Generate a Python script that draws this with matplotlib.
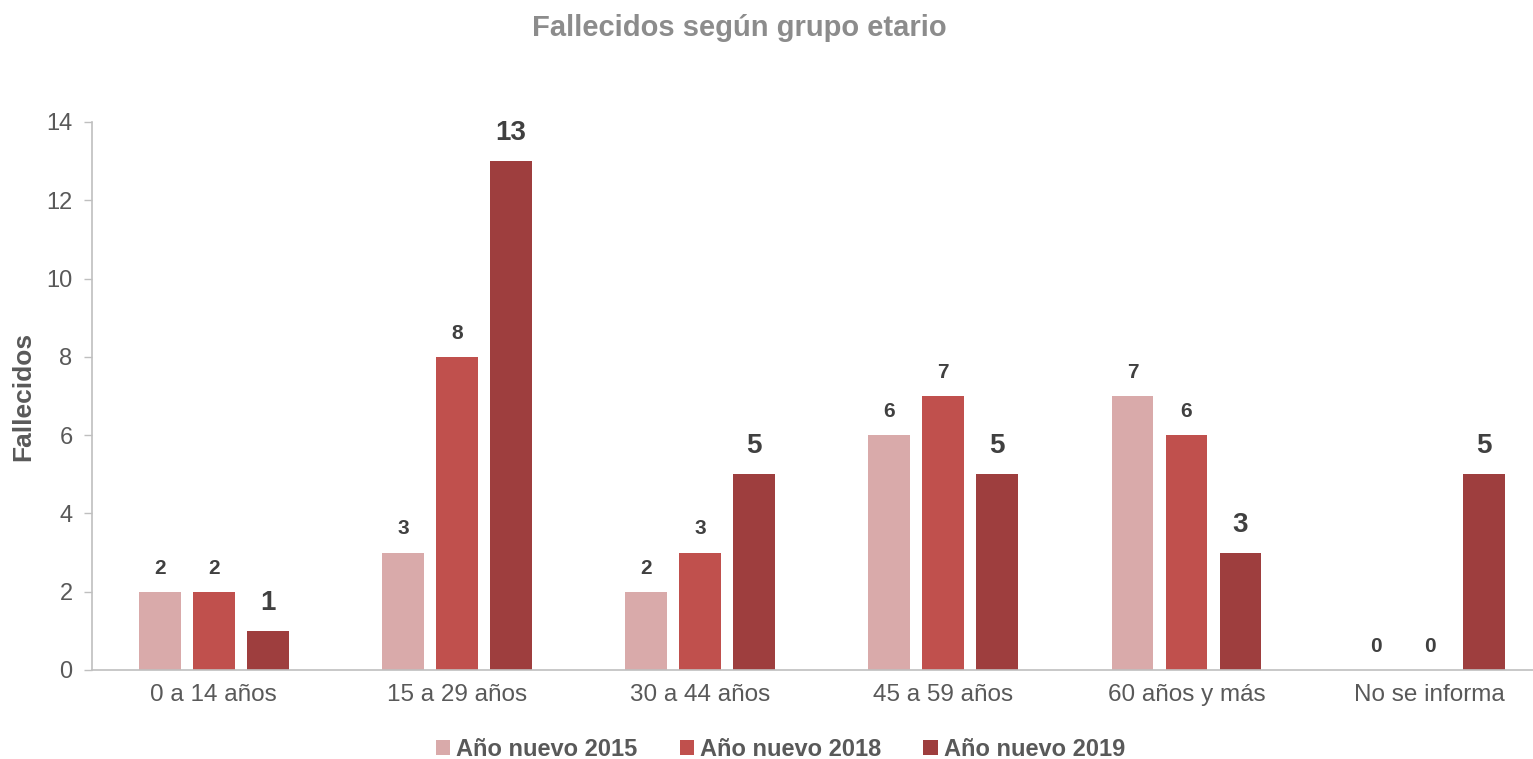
import numpy as np
import matplotlib.pyplot as plt

plt.rcParams['font.family'] = ['Liberation Sans', 'DejaVu Sans']

groups = ['0 a 14 años', '15 a 29 años', '30 a 44 años', '45 a 59 años', '60 años y más', 'No se informa']
series = ['Año nuevo 2015', 'Año nuevo 2018', 'Año nuevo 2019']
v2015 = [2, 3, 2, 6, 7, 0]
v2018 = [2, 8, 3, 7, 6, 0]
v2019 = [1, 13, 5, 5, 3, 5]
colors = ['#D9AAAA', '#C0504D', '#9E3E3E']

fig = plt.figure(figsize=(15.33, 7.59), dpi=100)
ax = fig.add_axes([0.060, 0.1173, 0.952, 0.722])

x = np.arange(len(groups))
w = 0.172
off = 0.222
label_sizes = [15, 15, 20]
label_offs = [17, 17, 20]
for k, (vals, c) in enumerate(zip([v2015, v2018, v2019], colors)):
    xs = x + (k - 1) * off
    ax.bar(xs, vals, width=w, color=c, label=series[k], zorder=2)
    for xi, v in zip(xs, vals):
        ax.annotate(str(v), (xi, v), xytext=(0, label_offs[k]), textcoords='offset points',
                    ha='center', va='center', fontsize=label_sizes[k],
                    fontweight='bold', color='#404040')

ax.set_xlim(-0.5, 5.5)
ax.set_ylim(0, 14)
ax.set_yticks(range(0, 15, 2))
ax.set_xticks(x)
ax.set_xticklabels(groups)
ax.tick_params(axis='x', length=0, pad=10, labelsize=17.5, colors='#595959')
ax.tick_params(axis='y', length=6, width=1, color='#BFBFBF', pad=8, labelsize=17, labelcolor='#595959')
for s in ['top', 'right']:
    ax.spines[s].set_visible(False)
for s in ['left', 'bottom']:
    ax.spines[s].set_color('#BFBFBF')
    ax.spines[s].set_linewidth(1.2)

ax.set_ylabel('Fallecidos', fontsize=19, fontweight='bold', color='#595959', labelpad=8)
fig.text(0.482, 0.963, 'Fallecidos según grupo etario', ha='center', va='center',
         fontsize=21, fontweight='bold', color='#8C8C8C')

leg = fig.legend(loc='lower center', bbox_to_anchor=(0.509, -0.031), ncol=3, frameon=False,
                 prop={'size': 17, 'weight': 'bold'}, handlelength=0.6, handleheight=0.6,
                 handletextpad=0.25, columnspacing=1.8)
for t in leg.get_texts():
    t.set_color('#595959')

fig.savefig('out.png', dpi=100)
